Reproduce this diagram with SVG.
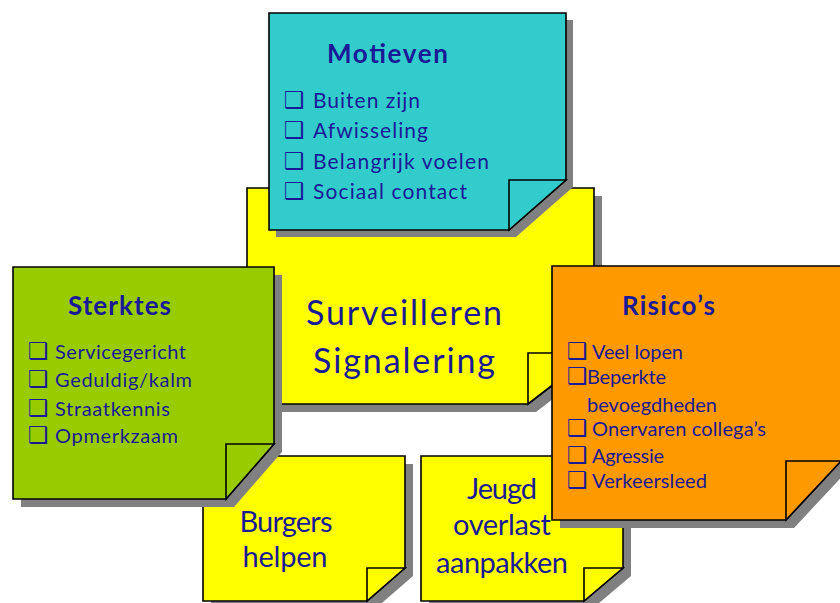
<svg xmlns="http://www.w3.org/2000/svg" width="840" height="603" viewBox="0 0 840 603">
<style>
.sh{fill:#808080}
.ol{stroke:#000;stroke-width:1.6;stroke-linejoin:miter}
.y{fill:#ffff00}.t{fill:#33cccc}.g{fill:#99cc00}.o{fill:#ff9900}
text{font-family:Lato,"Liberation Sans",sans-serif;fill:#1a1a96}
.big{font-size:34px;text-anchor:middle}
.mid{font-size:29px;text-anchor:middle}
.ttl{font-size:26px;font-weight:bold}
.it{font-size:20px}
.it2{font-size:21px}
.cb{font-family:"DejaVu Sans",sans-serif;font-size:23px;font-weight:bold}
</style>
<rect width="840" height="603" fill="#fff"/>
<g id="surveilleren">
<path class="sh" d="M255,196H602V361L536,412H255Z"/>
<path class="y ol" d="M247,188H594V353L528,404H247Z"/>
<path class="y ol" d="M528,404V353H594Z"/>
<text class="big" x="404" y="325" textLength="196">Surveilleren</text>
<text class="big" x="404" y="373" textLength="182">Signalering</text>
</g>
<g id="burgers">
<path class="sh" d="M211,464H413V576L375,609H211Z"/>
<path class="y ol" d="M203,456H405V568L367,601H203Z"/>
<path class="y ol" d="M367,601V568H405Z"/>
<text class="mid" x="286" y="532" textLength="93">Burgers</text>
<text class="mid" x="285" y="567" textLength="85">helpen</text>
</g>
<g id="jeugd">
<path class="sh" d="M429,464H631V576L592,609H429Z"/>
<path class="y ol" d="M421,456H623V568L584,601H421Z"/>
<path class="y ol" d="M584,601V568H623Z"/>
<text class="mid" x="502" y="499" textLength="70">Jeugd</text>
<text class="mid" x="502" y="535" textLength="98">overlast</text>
<text class="mid" x="502" y="573" textLength="132">aanpakken</text>
</g>
<g id="motieven">
<path class="sh" d="M276,20H573V187L516,237H276Z"/>
<path class="t ol" d="M269,13H566V180L509,230H269Z"/>
<path class="t ol" d="M509,230V180H566Z"/>
<text class="ttl" x="327" y="63" textLength="121">Motieven</text>
<text class="cb" x="284" y="108">❑</text><text class="it2" x="313" y="108" textLength="107">Buiten zijn</text>
<text class="cb" x="284" y="138">❑</text><text class="it2" x="313" y="138" textLength="115">Afwisseling</text>
<text class="cb" x="284" y="169">❑</text><text class="it2" x="313" y="169" textLength="176">Belangrijk voelen</text>
<text class="cb" x="284" y="199">❑</text><text class="it2" x="313" y="199" textLength="154">Sociaal contact</text>
</g>
<g id="sterktes">
<path class="sh" d="M21,275H282V452L234,507H21Z"/>
<path class="g ol" d="M13,267H274V444L226,499H13Z"/>
<path class="g ol" d="M226,499V444H274Z"/>
<text class="ttl" x="68" y="315" textLength="103">Sterktes</text>
<text class="cb" x="28" y="359">❑</text><text class="it" x="55" y="359" textLength="131">Servicegericht</text>
<text class="cb" x="28" y="387">❑</text><text class="it" x="55" y="387" textLength="137">Geduldig/kalm</text>
<text class="cb" x="28" y="416">❑</text><text class="it" x="55" y="416" textLength="115">Straatkennis</text>
<text class="cb" x="28" y="443">❑</text><text class="it" x="55" y="443" textLength="123">Opmerkzaam</text>
</g>
<g id="risicos">
<path class="sh" d="M560,274H849V469L794,528H560Z"/>
<path class="o ol" d="M552,266H841V461L786,520H552Z"/>
<path class="o ol" d="M786,520V461H841Z"/>
<text class="ttl" x="622" y="315" textLength="93">Risico’s</text>
<text class="cb" x="567" y="359">❑</text><text class="it" x="592" y="359" textLength="91">Veel lopen</text>
<text class="cb" x="567" y="384">❑</text><text class="it" x="587" y="384" textLength="79">Beperkte</text>
<text class="it" x="587" y="412" textLength="130">bevoegdheden</text>
<text class="cb" x="567" y="436">❑</text><text class="it" x="592" y="436" textLength="174">Onervaren collega’s</text>
<text class="cb" x="567" y="463">❑</text><text class="it" x="592" y="463" textLength="72">Agressie</text>
<text class="cb" x="567" y="488">❑</text><text class="it" x="592" y="488" textLength="115">Verkeersleed</text>
</g>
<g id="connectors"></g>
</svg>
